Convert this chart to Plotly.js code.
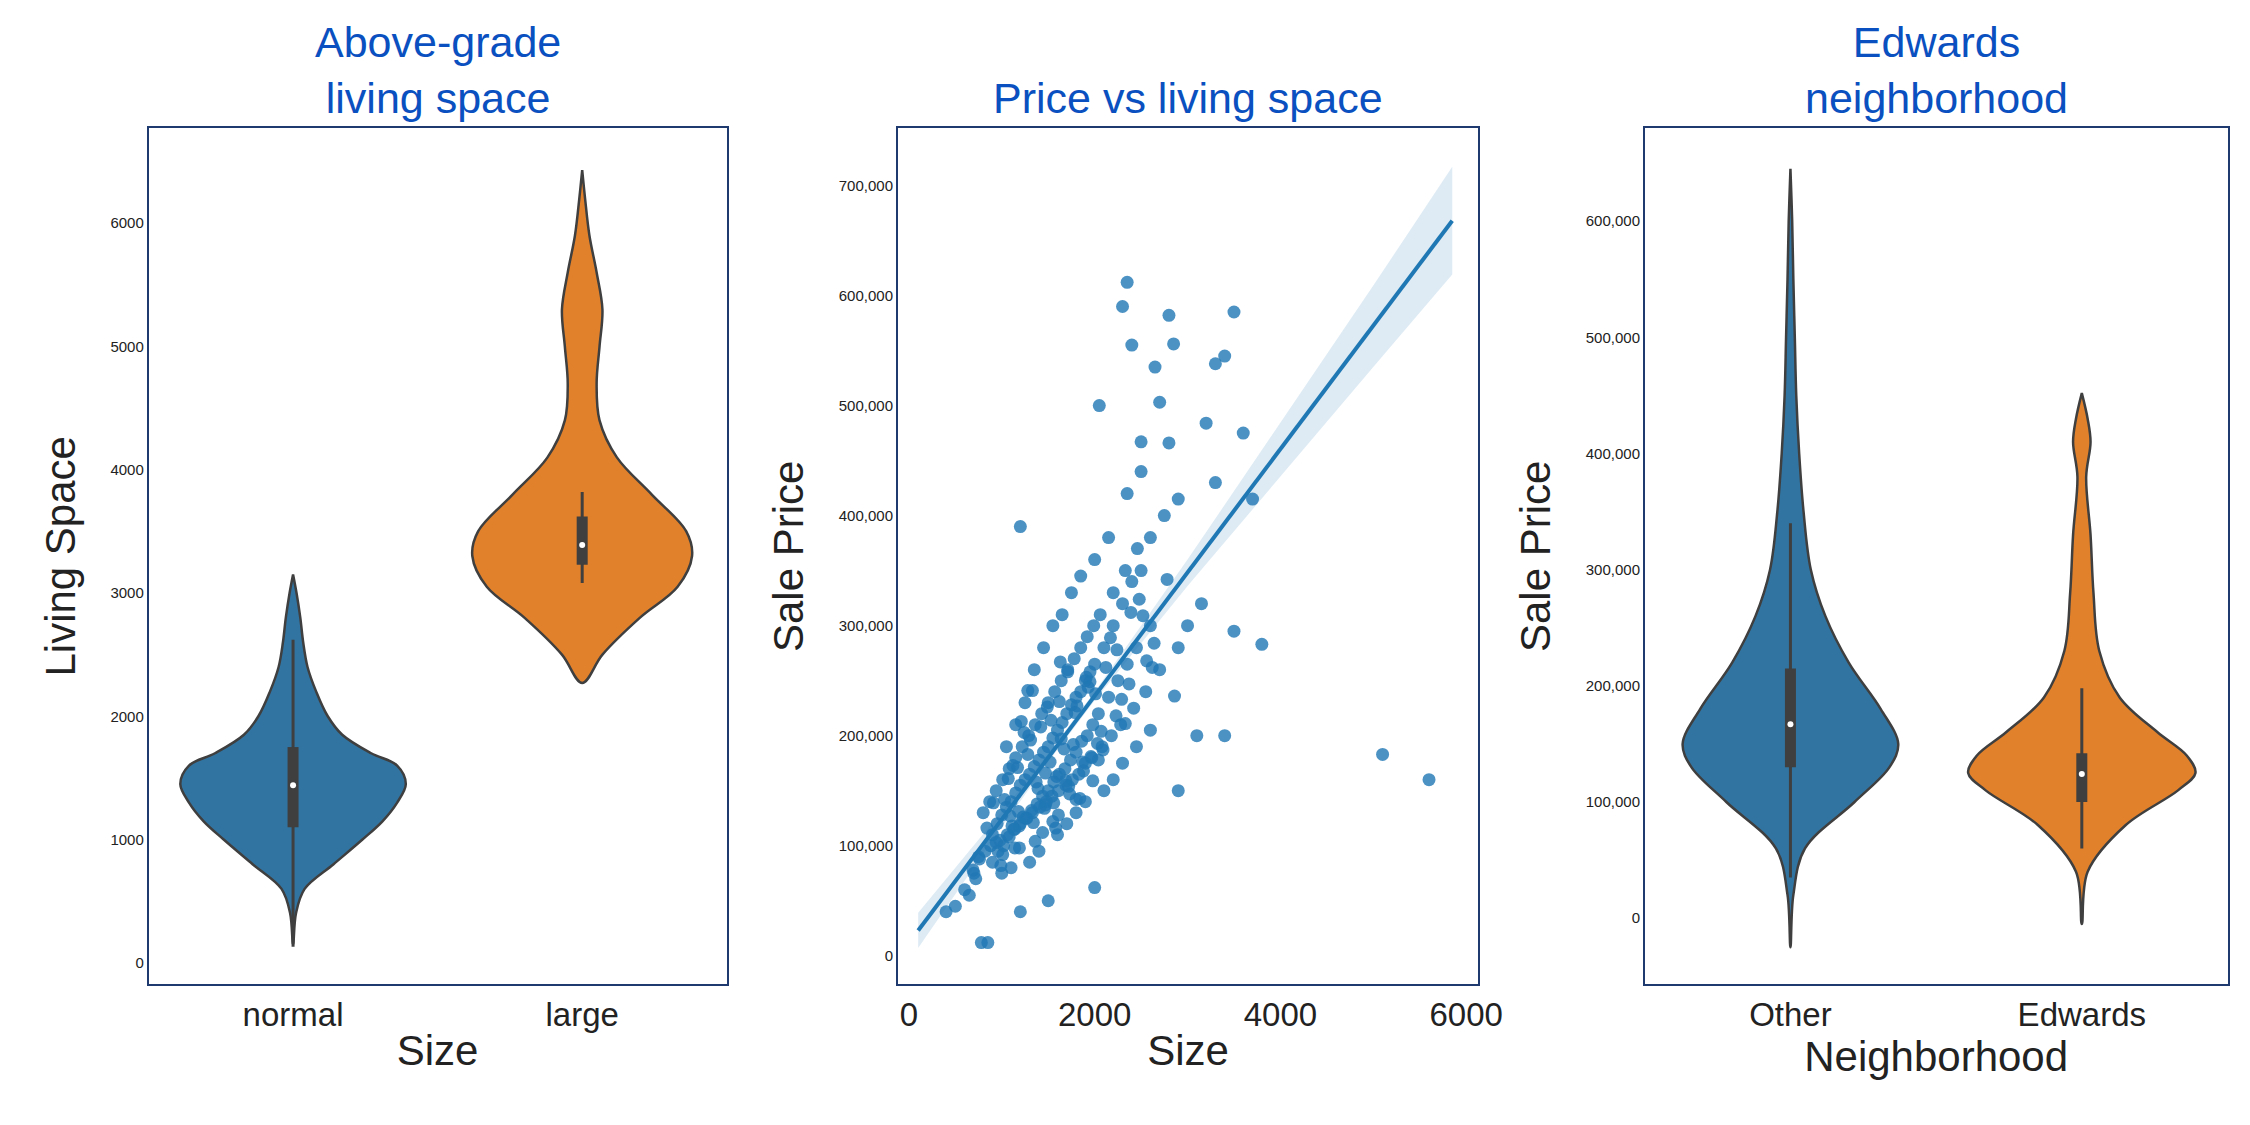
<!DOCTYPE html>
<html>
<head>
<meta charset="utf-8">
<script src="https://cdn.plot.ly/plotly-3.0.1.min.js"></script>
<style>html,body{margin:0;padding:0;background:#fff}#chart{width:2250px;height:1125px}</style>
</head>
<body>
<div id="chart"></div>
<script>
// ── Panel 1: living space by size class ─────────────────────
const sizeCats = ['normal', 'large'];
const normalY  = [150, 400, 600, 800, 1000, 1150, 1300, 1450, 1600, 1700, 1850, 2000, 2200, 2400, 2600, 2800, 3000, 3150];
const normalW  = [0, 0.01, 0.04, 0.14, 0.24, 0.31, 0.36, 0.39, 0.36, 0.27, 0.17, 0.12, 0.08, 0.05, 0.035, 0.025, 0.012, 0];
const largeY   = [2270, 2500, 2800, 3050, 3300, 3500, 3800, 4100, 4400, 4700, 5000, 5300, 5600, 5900, 6200, 6430];
const largeW   = [0, 0.07, 0.2, 0.33, 0.38, 0.36, 0.24, 0.12, 0.06, 0.05, 0.06, 0.07, 0.05, 0.025, 0.01, 0];
// [whiskerLow, q1, median, q3, whiskerHigh]
const normalBox = [130, 1100, 1440, 1750, 2620];
const largeBox  = [3080, 3230, 3390, 3620, 3820];

// ── Panel 2: price vs living space ──────────────────────────
const livArea = [5100,5600,3800,3500,3400,3100,2350,2300,2800,3500,3400,3300,2400,2850,2650,2050,2700,2500,2800,3200,3600,3700,2900,3300,2900,1200,780,850,1200,2000,1500,
  900,950,1000,1050,1100,1150,1200,1250,1300,1350,1400,1450,1500,1550,1600,1650,1700,1750,1800,1850,1900,1950,2000,2100,2200,2300,2400,2500,
  900,960,1020,1080,1140,1200,1260,1320,1380,1440,1500,1560,1620,1680,1740,1800,1860,1920,1980,2040,2150,2250,2350,2450,2600,
  800,870,940,1010,1080,1150,1220,1290,1360,1430,1500,1570,1640,1710,1780,1850,1920,1990,2060,2200,2330,2460,2600,2750,
  600,700,750,820,880,980,1060,1130,1190,1270,1330,1410,1480,1540,1610,1690,1760,1830,1900,1970,2080,2180,2280,2420,2550,2700,2900,3000,3150,
  400,500,650,720,1000,1100,1300,1400,1600,1700,1800,1900,2100,2200,2300,2450,2600,1350,1450,1550,1250,1150,1050,1650,1750,1850,2000,2150,2350,2500,
  1030,1110,1170,1230,1310,1390,1470,1530,1590,1670,1730,1810,1870,1930,2030,2120,2230,2370,2520,2640,
  940,1070,1190,1280,1340,1420,1460,1520,1580,1620,1690,1770,1840,1910,1960,2070,2170,2290,2390,2560,
  1120,1180,1240,1370,1440,1490,1560,1640,1720,1790,1880,1950,2090,2240,1010,1090,1330,1610,1710,2010,
  690,760,840,910,990,1140,1210,1280,1360,1470,1550,1630,1800,2040,2330,2480,2620,2780,2860,1980];
const salePrice = [183000,160000,283000,295000,200000,200000,612000,590000,582000,585000,545000,538000,555000,556000,535000,500000,503000,467000,466000,484000,475000,415000,415000,430000,150000,390000,12000,12000,40000,62000,50000,
  110000,120000,128000,135000,140000,148000,155000,160000,165000,172000,178000,185000,190000,198000,205000,212000,220000,228000,235000,240000,250000,258000,265000,280000,300000,320000,340000,350000,
  85000,95000,100000,108000,115000,120000,125000,132000,138000,145000,150000,158000,165000,170000,178000,185000,195000,200000,210000,220000,235000,250000,265000,280000,300000,
  130000,140000,150000,160000,170000,180000,190000,200000,210000,220000,230000,240000,250000,260000,270000,280000,290000,300000,310000,330000,350000,370000,380000,400000,
  60000,75000,90000,95000,100000,105000,110000,115000,118000,125000,130000,135000,140000,145000,150000,155000,160000,165000,175000,180000,190000,200000,210000,225000,240000,260000,280000,300000,320000,
  40000,45000,55000,70000,75000,80000,85000,95000,110000,120000,130000,140000,150000,160000,175000,190000,205000,260000,280000,300000,230000,210000,190000,310000,330000,345000,360000,380000,420000,440000,
  142000,118000,171000,126000,196000,152000,137000,214000,163000,188000,147000,227000,176000,244000,193000,262000,218000,247000,309000,284000,
  103000,161000,98000,183000,121000,208000,134000,176000,116000,231000,159000,192000,143000,253000,181000,204000,289000,233000,312000,268000,
  173000,131000,203000,158000,112000,226000,139000,197000,154000,221000,168000,249000,187000,278000,92000,127000,241000,128000,258000,238000,
  78000,88000,116000,139000,82000,98000,213000,241000,104000,166000,122000,267000,142000,178000,211000,324000,262000,342000,236000,159000];
const fitX    = [100, 1000, 1500, 2000, 3000, 4000, 5000, 5850];
const fitY    = [23000, 124000, 180000, 236000, 348000, 460000, 572000, 668000];
const ciHalf  = [16000, 7000, 4000, 4000, 12000, 24000, 37000, 49000];

// ── Panel 3: price by neighborhood ──────────────────────────
const nbhdCats = ['Other', 'Edwards'];
const otherY   = [-25000, 20000, 60000, 100000, 130000, 150000, 180000, 220000, 260000, 300000, 350000, 400000, 450000, 500000, 550000, 600000, 645000];
const otherW   = [0, 0.01, 0.05, 0.22, 0.34, 0.37, 0.31, 0.2, 0.12, 0.07, 0.045, 0.03, 0.02, 0.015, 0.01, 0.006, 0];
const edwY     = [-5000, 40000, 80000, 110000, 125000, 140000, 160000, 190000, 230000, 280000, 330000, 380000, 410000, 430000, 452000];
const edwW     = [0, 0.02, 0.15, 0.33, 0.39, 0.36, 0.26, 0.13, 0.06, 0.04, 0.03, 0.015, 0.03, 0.02, 0];
const otherBox = [35000, 130000, 167000, 215000, 340000];
const edwBox   = [60000, 100000, 124000, 142000, 198000];

const BLUE = '#3274a1', ORANGE = '#e1812c', EDGE = '#3f3f3f', FRAME = '#1f3a6e';
const FONT = 'Liberation Sans, Arial, sans-serif';

const violin = (center, ys, ws, color, xa, ya) => ({
  type: 'scatter', mode: 'lines', fill: 'toself', fillcolor: color,
  x: ys.map((y, i) => center + ws[i]).concat(ys.slice().reverse().map((y, i) => center - ws[ws.length - 1 - i])),
  y: ys.concat(ys.slice().reverse()),
  line: {color: EDGE, width: 2.5, shape: 'spline'}, xaxis: xa, yaxis: ya, hoverinfo: 'skip'
});
const boxMarks = (center, b, xa, ya) => [
  {type: 'scatter', mode: 'lines', x: [center, center], y: [b[0], b[4]], line: {color: EDGE, width: 3}, xaxis: xa, yaxis: ya},
  {type: 'scatter', mode: 'lines', x: [center, center], y: [b[1], b[3]], line: {color: EDGE, width: 11}, xaxis: xa, yaxis: ya},
  {type: 'scatter', mode: 'markers', x: [center], y: [b[2]], marker: {color: '#fff', size: 6}, xaxis: xa, yaxis: ya},
];

const traces = [
  violin(0, normalY, normalW, BLUE, 'x', 'y'),
  violin(1, largeY, largeW, ORANGE, 'x', 'y'),
  ...boxMarks(0, normalBox, 'x', 'y'),
  ...boxMarks(1, largeBox, 'x', 'y'),
  {type: 'scatter', mode: 'lines', x: fitX, y: fitY.map((v, i) => v - ciHalf[i]), line: {width: 0}, xaxis: 'x2', yaxis: 'y2'},
  {type: 'scatter', mode: 'lines', x: fitX, y: fitY.map((v, i) => v + ciHalf[i]), line: {width: 0}, fill: 'tonexty',
   fillcolor: 'rgba(31,119,180,0.15)', xaxis: 'x2', yaxis: 'y2'},
  {type: 'scatter', mode: 'markers', x: livArea, y: salePrice, marker: {color: 'rgba(31,119,180,0.8)', size: 13},
   xaxis: 'x2', yaxis: 'y2'},
  {type: 'scatter', mode: 'lines', x: fitX, y: fitY, line: {color: '#1f77b4', width: 4}, xaxis: 'x2', yaxis: 'y2'},
  violin(0, otherY, otherW, BLUE, 'x3', 'y3'),
  violin(1, edwY, edwW, ORANGE, 'x3', 'y3'),
  ...boxMarks(0, otherBox, 'x3', 'y3'),
  ...boxMarks(1, edwBox, 'x3', 'y3'),
];

const ax = extra => ({showline: true, mirror: true, linecolor: FRAME, linewidth: 1.5, showgrid: false, zeroline: false,
  ticks: '', exponentformat: 'none', separatethousands: false, tickfont: {size: 15, color: '#222'}, ...extra});
const catAx = (cats, dom, title) => ax({domain: dom, range: [-0.5, 1.5], tickvals: [0, 1], ticktext: cats,
  tickfont: {size: 33, color: '#222'}, title: {text: title, font: {size: 42, color: '#222'}, standoff: 4}});
const yTitle = t => ({text: t, font: {size: 42, color: '#222'}, standoff: 22});
const ttl = (text, x) => ({text, x, y: 0.89, xref: 'paper', yref: 'paper', xanchor: 'center', yanchor: 'bottom',
  showarrow: false, font: {size: 43, color: '#0a50c0'}});

Plotly.newPlot('chart', traces, {
  width: 2250, height: 1125, showlegend: false, plot_bgcolor: '#fff', paper_bgcolor: '#fff',
  font: {family: FONT}, margin: {l: 0, r: 0, t: 0, b: 0},
  xaxis:  catAx(sizeCats, [0.066, 0.323], 'Size'),
  yaxis:  ax({domain: [0.125, 0.886], range: [-175, 6770], tickvals: [0, 1000, 2000, 3000, 4000, 5000, 6000], title: yTitle('Living Space')}),
  xaxis2: ax({domain: [0.399, 0.657], range: [-120, 6130], tickvals: [0, 2000, 4000, 6000], tickfont: {size: 33, color: '#222'},
    title: {text: 'Size', font: {size: 42, color: '#222'}, standoff: 4}, anchor: 'y2'}),
  yaxis2: ax({domain: [0.125, 0.886], range: [-26000, 752000], tickvals: [0, 100000, 200000, 300000, 400000, 500000, 600000, 700000],
    title: yTitle('Sale Price'), anchor: 'x2'}),
  xaxis3: {...catAx(nbhdCats, [0.731, 0.99], 'Neighborhood'), anchor: 'y3'},
  yaxis3: ax({domain: [0.125, 0.886], range: [-57000, 680000], tickvals: [0, 100000, 200000, 300000, 400000, 500000, 600000],
    title: yTitle('Sale Price'), anchor: 'x3'}),
  annotations: [
    ttl('Above-grade<br>living space', 0.1945),
    ttl('Price vs living space', 0.528),
    ttl('Edwards<br>neighborhood', 0.8605),
  ],
}, {displayModeBar: false});
</script>
</body>
</html>
